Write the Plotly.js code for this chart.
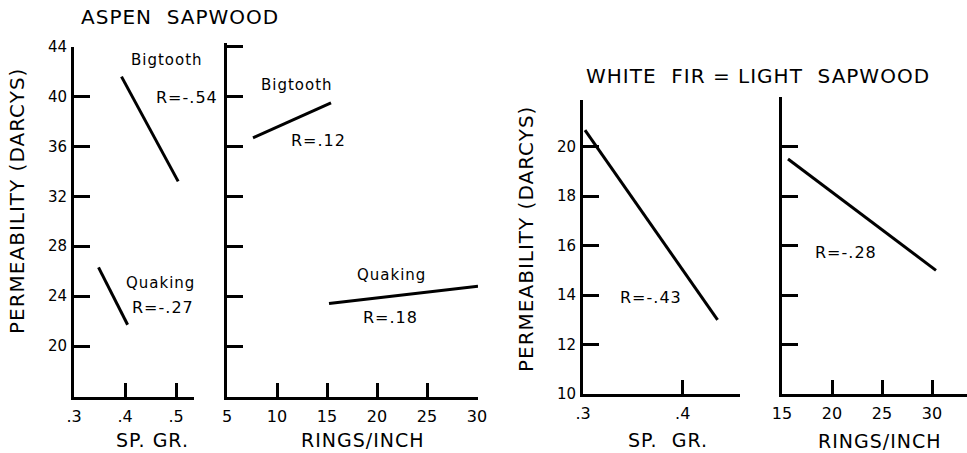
<!DOCTYPE html>
<html>
<head>
<meta charset="utf-8">
<script src="https://cdn.plot.ly/plotly-3.0.1.min.js"></script>
<style>
  html, body { margin: 0; padding: 0; background: #fff; }
  #chart { width: 967px; height: 453px; }
  .annotation-text { letter-spacing: 1px; }
</style>
</head>
<body>
<div id="chart"></div>
<script>
// ---- Data ----
// Aspen sapwood: permeability (darcys) vs specific gravity
const aspenSpGrBigtoothX = [0.393, 0.504];
const aspenSpGrBigtoothY = [41.6, 33.2];
const aspenSpGrQuakingX = [0.348, 0.405];
const aspenSpGrQuakingY = [26.3, 21.7];
// Aspen sapwood: permeability vs rings per inch
const aspenRingsBigtoothX = [7.6, 15.4];
const aspenRingsBigtoothY = [36.7, 39.5];
const aspenRingsQuakingX = [15.2, 30.1];
const aspenRingsQuakingY = [23.4, 24.8];
// White fir light sapwood
const firSpGrX = [0.302, 0.435];
const firSpGrY = [20.67, 13.0];
const firRingsX = [15.6, 30.4];
const firRingsY = [19.5, 15.0];

// Tick values / labels
const aspenYTicks = [20, 24, 28, 32, 36, 40, 44];
const aspenSpGrTicks = [0.3, 0.4, 0.5];
const aspenSpGrLabels = ['.3', '.4', '.5'];
const aspenRingsTicks = [5, 10, 15, 20, 25, 30];
const firYTicks = [10, 12, 14, 16, 18, 20];
const firSpGrTicks = [0.3, 0.4];
const firSpGrLabels = ['.3', '.4'];
const firRingsTicks = [15, 20, 25, 30];

// Correlation labels
const rLabels = ['R=-.54', 'R=-.27', 'R=.12', 'R=.18', 'R=-.43', 'R=-.28'];

const FONT = 'DejaVu Sans, Liberation Sans, sans-serif';
const W = 967, H = 453;
const px = v => v / W;
const py = v => 1 - v / H;

function line(x, y, xa, ya) {
  return { x: x, y: y, xaxis: xa, yaxis: ya, type: 'scatter', mode: 'lines',
           line: { color: '#000', width: 3 }, hoverinfo: 'skip', showlegend: false };
}

const data = [
  line(aspenSpGrBigtoothX, aspenSpGrBigtoothY, 'x', 'y'),
  line(aspenSpGrQuakingX, aspenSpGrQuakingY, 'x', 'y'),
  line(aspenRingsBigtoothX, aspenRingsBigtoothY, 'x2', 'y2'),
  line(aspenRingsQuakingX, aspenRingsQuakingY, 'x2', 'y2'),
  line(firSpGrX, firSpGrY, 'x3', 'y3'),
  line(firRingsX, firRingsY, 'x4', 'y4')
];

function xax(dom, range, vals, text, anchor) {
  return { domain: dom, range: range, anchor: anchor, tickmode: 'array', tickvals: vals,
           ticktext: text, ticks: 'inside', ticklen: 14, tickwidth: 3, tickcolor: '#000',
           showline: true, linewidth: 3, linecolor: '#000', showgrid: false, zeroline: false,
           tickfont: { family: FONT, size: 16, color: '#000' }, ticklabelstandoff: 3,
           fixedrange: true };
}
function yax(dom, range, vals, showLabels, anchor) {
  return { domain: dom, range: range, anchor: anchor, tickmode: 'array', tickvals: vals,
           ticktext: vals.map(String), showticklabels: showLabels,
           ticks: 'inside', ticklen: 16, tickwidth: 3, tickcolor: '#000',
           showline: true, linewidth: 3, linecolor: '#000', showgrid: false, zeroline: false,
           tickfont: { family: FONT, size: 15, color: '#000' }, ticklabelstandoff: 1,
           fixedrange: true };
}

function note(text, x, y, xref, yref, size, angle) {
  return { text: text, x: x, y: y, xref: xref, yref: yref, showarrow: false,
           xanchor: 'center', yanchor: 'middle', textangle: angle || 0,
           font: { family: FONT, size: size, color: '#000' } };
}

const layout = {
  width: W, height: H,
  margin: { l: 0, r: 0, t: 0, b: 0, pad: 0 },
  paper_bgcolor: '#fff', plot_bgcolor: '#fff',
  showlegend: false,
  xaxis:  xax([px(74), px(194)], [0.3, 0.535], aspenSpGrTicks, aspenSpGrLabels, 'y'),
  yaxis:  yax([py(397), py(46.7)], [15.91, 44], aspenYTicks, true, 'x'),
  xaxis2: xax([px(227), px(478)], [5, 30.1], aspenRingsTicks, aspenRingsTicks.map(String), 'y2'),
  yaxis2: yax([py(397), py(43)], [15.91, 44.3], aspenYTicks, false, 'x2'),
  xaxis3: xax([px(583), px(740)], [0.3, 0.4575], firSpGrTicks, firSpGrLabels, 'y3'),
  yaxis3: yax([py(394), py(100)], [10, 21.89], firYTicks, true, 'x3'),
  xaxis4: xax([px(782), px(967)], [15, 33.5], firRingsTicks, firRingsTicks.map(String), 'y4'),
  yaxis4: yax([py(394), py(97)], [10, 22.01], firYTicks, false, 'x4'),
  annotations: [
    note('ASPEN\u00a0 SAPWOOD', px(180), py(17), 'paper', 'paper', 20),
    note('WHITE\u00a0 FIR\u00a0=\u00a0LIGHT\u00a0 SAPWOOD', px(758), py(76), 'paper', 'paper', 20),
    note('PERMEABILITY (DARCYS)', px(17), py(201), 'paper', 'paper', 20, -90),
    note('PERMEABILITY (DARCYS)', px(526), py(239), 'paper', 'paper', 20, -90),
    note('SP. GR.', px(152), py(440), 'paper', 'paper', 19),
    note('RINGS/INCH', px(363), py(440), 'paper', 'paper', 19),
    note('SP.\u00a0 GR.', px(668), py(440), 'paper', 'paper', 19),
    note('RINGS/INCH', px(880), py(441), 'paper', 'paper', 19),
    note('Bigtooth', 0.482, 42.9, 'x', 'y', 15),
    note(rLabels[0], 0.521, 39.9, 'x', 'y', 16),
    note('Quaking', 0.470, 25.05, 'x', 'y', 15),
    note(rLabels[1], 0.474, 23.1, 'x', 'y', 16),
    note('Bigtooth', 11.97, 40.93, 'x2', 'y2', 15),
    note(rLabels[2], 14.1, 36.5, 'x2', 'y2', 16),
    note('Quaking', 21.4, 25.7, 'x2', 'y2', 15),
    note(rLabels[3], 21.3, 22.25, 'x2', 'y2', 16),
    note(rLabels[4], 0.368, 13.92, 'x3', 'y3', 16),
    note(rLabels[5], 21.35, 15.74, 'x4', 'y4', 16)
  ]
};

Plotly.newPlot('chart', data, layout, { staticPlot: true, displayModeBar: false });
</script>
</body>
</html>
